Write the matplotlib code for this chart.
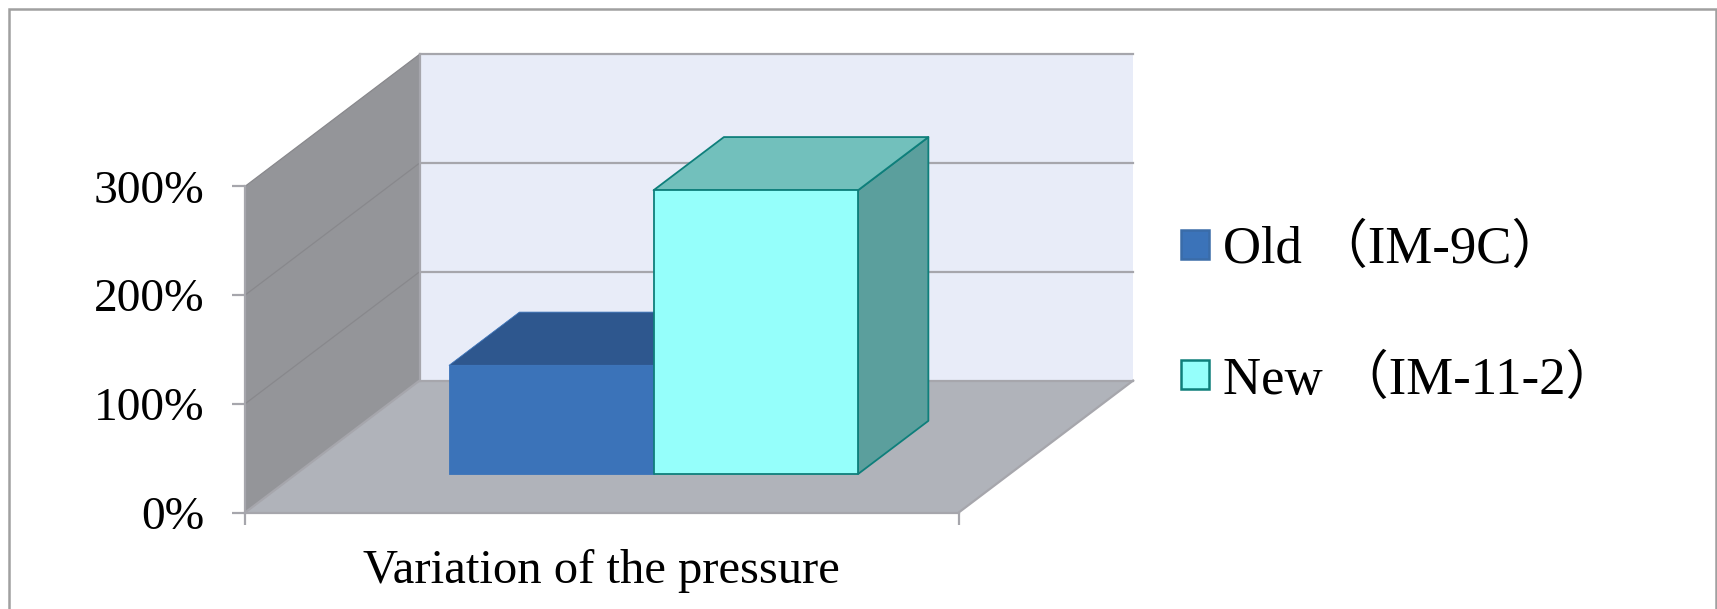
import matplotlib
matplotlib.use("Agg")
import matplotlib.pyplot as plt
from matplotlib.patches import Polygon, Patch, Rectangle

# Data
category = "Variation of the pressure"
series_names = ["Old \uff08IM-9C\uff09", "New \uff08IM-11-2\uff09"]
series_values = [100, 261]
y_ticks = [0, 100, 200, 300]
y_tick_labels = ["0%", "100%", "200%", "300%"]

# Styles
FONT = ["Liberation Serif", "Noto Sans CJK JP"]
plt.rcParams["font.family"] = FONT
W, H = 1717, 609
face_colors = ["#3B73B9", "#95FFFB"]
top_colors = ["#2E578E", "#72C0BC"]
side_colors = ["#2E578E", "#5B9F9D"]
edge_colors = ["#3B73B9", "#0E7F7B"]
edge_widths = [0.6, 1.3]
WALL = "#E8ECF8"
FLOOR = "#B0B3BA"
SIDE = "#949599"
LINE = "#A6A6AC"

fig = plt.figure(figsize=(W / 100, H / 100), dpi=100, facecolor="white")
L, R, T, B = 245, 958.6, 186.4, 512.6
ax = fig.add_axes([L / W, 1 - B / H, (R - L) / W, (B - T) / H])
ax.set_xlim(0, 1)
ax.set_ylim(y_ticks[0], y_ticks[-1])
ax.patch.set_visible(False)
for s in ax.spines.values():
    s.set_visible(False)

# Oblique projection: depth z in [0, 1] shifts a point right and upward
DX = 174.5 / (R - L)
DY = 132 / ((B - T) / y_ticks[-1])
def proj(x, v, z):
    return x + DX * z, v + DY * z

def face(points, **kw):
    ax.add_patch(Polygon([proj(*p) for p in points], closed=True, clip_on=False, **kw))

def seg(a, b, color=LINE, lw=1.6, z=3):
    pa, pb = proj(*a), proj(*b)
    ax.plot([pa[0], pb[0]], [pa[1], pb[1]], color=color, lw=lw, clip_on=False, zorder=z)

top = y_ticks[-1]
face([(0, 0, 1), (1, 0, 1), (1, top, 1), (0, top, 1)], facecolor=WALL, edgecolor="none", zorder=1)
face([(0, 0, 0), (0, 0, 1), (0, top, 1), (0, top, 0)], facecolor=SIDE, edgecolor="none", zorder=1)
face([(0, 0, 0), (1, 0, 0), (1, 0, 1), (0, 0, 1)], facecolor=FLOOR, edgecolor="none", zorder=1)

for v in y_ticks[1:]:
    seg((0, v, 1), (1, v, 1), z=2)
    seg((0, v, 0), (0, v, 1), color="#88888C", lw=0.9, z=2)
seg((0, 0, 0), (0, top, 0), z=2)
seg((0, 0, 1), (0, top, 1), z=2)
seg((0, 0, 0), (0, 0, 1), z=2)
seg((0, 0, 1), (1, 0, 1), z=2)
seg((0, 0, 0), (1, 0, 0), z=2)
seg((1, 0, 0), (1, 0, 1), z=2)

# Bars
bar_w = 1 / (len(series_values) + 1.49)
x0 = 0.2146
z0, z1 = 0.292, 0.695
for i, v in enumerate(series_values):
    a, b = x0 + i * bar_w, x0 + (i + 1) * bar_w
    kw = dict(edgecolor=edge_colors[i], linewidth=edge_widths[i], joinstyle="round")
    zo = 4 + i
    face([(b, 0, z0), (b, 0, z1), (b, v, z1), (b, v, z0)], facecolor=side_colors[i], zorder=zo, **kw)
    face([(a, v, z0), (b, v, z0), (b, v, z1), (a, v, z1)], facecolor=top_colors[i], zorder=zo, **kw)
    face([(a, 0, z0), (b, 0, z0), (b, v, z0), (a, v, z0)], facecolor=face_colors[i], zorder=zo, **kw)

# Axes furniture
ax.set_yticks(y_ticks, y_tick_labels)
ax.set_xticks([0, 1], ["", ""])
ax.tick_params(axis="y", length=9.7, width=1.6, color=LINE, pad=19.6, labelsize=34.2, labelcolor="black")
ax.tick_params(axis="x", length=8.9, width=1.6, color=LINE, pad=0)
ax.set_xlabel(category, fontsize=35, color="black", labelpad=17.5)

handles = [Patch(facecolor=face_colors[i], edgecolor=edge_colors[i] if i else "#3A6CA8",
                 linewidth=1.8, label=series_names[i]) for i in range(2)]
fig.legend(handles=handles, loc="upper left", bbox_to_anchor=(1181 / W, 1 - 224 / H),
           frameon=False, fontsize=38, handlelength=0.53, handleheight=0.47,
           handletextpad=0.26, labelspacing=1.52, borderpad=0, borderaxespad=0)

# Outer frame, open past the bottom edge
fig.add_artist(Rectangle((8.5 / W, -0.1), (1716 - 8.5) / W, 1.1 + (-9) / H + 0,
                         transform=fig.transFigure, fill=False, edgecolor="#A0A0A0", linewidth=1.8))

fig.savefig("out.png", dpi=100, facecolor="white")
